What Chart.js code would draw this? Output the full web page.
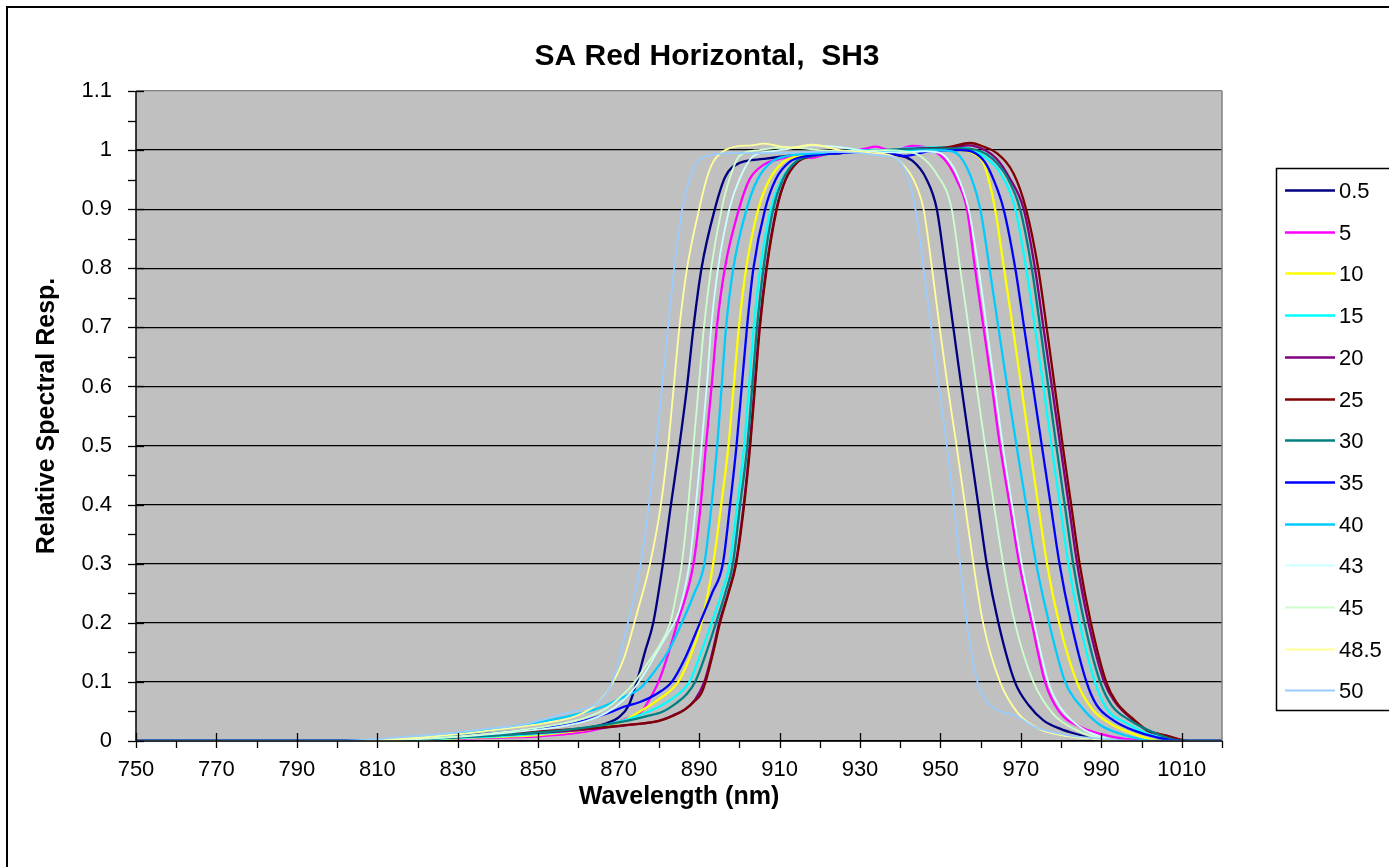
<!DOCTYPE html>
<html><head><meta charset="utf-8">
<script src="https://cdn.jsdelivr.net/npm/chart.js@4/dist/chart.umd.min.js"></script>
<style>html,body{margin:0;padding:0;background:#fff;overflow:hidden}#wrap{width:1389px;height:867px;position:relative}</style>
</head><body><div id="wrap"><canvas id="c" width="1389" height="867"></canvas></div>
<script>
// ---- data: [wavelength nm, relative spectral response] ----
const seriesLabels = ['0.5','5','10','15','20','25','30','35','40','43','45','48.5','50'];
const seriesColors = ['#000080','#FF00FF','#FFFF00','#00FFFF','#800080','#800000','#008080','#0000FF','#00CCFF','#CCFFFF','#CCFFCC','#FFFF99','#99CCFF'];
const xTickStart = 750, xTickEnd = 1020, xLabelStep = 20, xTickStep = 10;
const yTickMax = 1.1, yTickStep = 0.1;

const s05 = [[750,0],[800,0],[815,0.002],[830,0.006],[845,0.011],[855,0.016],[862,0.022],[867,0.03],[870,0.04],[872.5,0.06],[874.5,0.1],[876.5,0.15],[878.6,0.2],[881,0.3],[883,0.4],[885.1,0.5],[887,0.6],[888.6,0.7],[890.6,0.8],[893.9,0.9],[896.5,0.955],[900,0.978],[906,0.985],[912,0.99],[920,0.995],[930,0.998],[938,0.993],[943,0.982],[946.6,0.95],[949.1,0.9],[951.2,0.8],[953.2,0.7],[955.2,0.6],[957.3,0.5],[959.4,0.4],[961.5,0.3],[964.4,0.2],[968.5,0.1],[972,0.06],[975.6,0.035],[980,0.02],[984.7,0.01],[988,0.003],[1000,0],[1020,0]];
const s5 = [[750,0],[805,0],[820,0.002],[835,0.005],[850,0.008],[860,0.014],[866,0.022],[872,0.038],[875.7,0.05],[877.8,0.072],[879.9,0.1],[881.5,0.13],[884.6,0.2],[888.6,0.3],[890.4,0.4],[891.7,0.5],[893.1,0.6],[894.4,0.7],[896.4,0.8],[899.9,0.9],[902.5,0.95],[906,0.975],[910,0.985],[914,0.99],[918,0.987],[922,0.994],[927,0.996],[931,1.002],[934,1.006],[938,0.998],[943,1.007],[948,1.0],[951.5,0.98],[954,0.95],[956.6,0.9],[958.6,0.8],[960.7,0.7],[962.8,0.6],[964.8,0.5],[967.2,0.4],[969.6,0.3],[972.7,0.2],[976,0.1],[979.5,0.05],[984.7,0.024],[989.7,0.012],[996.3,0.003],[1003,0],[1020,0]];
const s10 = [[750,0],[805,0],[820,0.002],[835,0.006],[850,0.01],[860,0.017],[866,0.024],[871,0.034],[875.3,0.05],[880.3,0.072],[884.8,0.1],[887.6,0.14],[890.6,0.2],[893.5,0.3],[895.5,0.4],[897.3,0.5],[898.6,0.6],[899.9,0.7],[901.7,0.8],[904.7,0.9],[907.5,0.95],[911,0.98],[915,0.99],[922,0.995],[930,0.998],[940,1.0],[948,1.003],[954,1.0],[958,0.995],[960.7,0.978],[962,0.95],[963.6,0.9],[965.8,0.8],[968,0.7],[970.1,0.6],[972.2,0.5],[974.3,0.4],[976.5,0.3],[979.5,0.2],[983.9,0.1],[987.6,0.055],[992.1,0.03],[998,0.012],[1005,0],[1020,0]];
const s15 = [[750,0],[808,0],[822,0.003],[836,0.007],[850,0.012],[860,0.019],[868,0.029],[875.3,0.044],[880,0.058],[884,0.075],[887.6,0.1],[890.5,0.15],[893.1,0.2],[895.6,0.25],[897.6,0.3],[899.5,0.4],[901.2,0.5],[902.4,0.6],[903.6,0.7],[905.2,0.8],[907.8,0.9],[910.5,0.95],[914,0.98],[918,0.99],[925,0.995],[935,0.999],[945,1.004],[952,1.005],[957,1.003],[960.7,0.99],[964.9,0.961],[968.6,0.9],[971.3,0.8],[973.5,0.7],[975.6,0.6],[977.6,0.5],[979.7,0.4],[981.8,0.3],[984.6,0.2],[988.4,0.1],[991.3,0.055],[996.3,0.03],[1002.9,0.009],[1010,0],[1020,0]];
const s20 = [[750,0],[808,0],[825,0.005],[840,0.01],[850,0.014],[860,0.018],[866,0.022],[873.7,0.028],[880,0.034],[884,0.045],[886.6,0.054],[889,0.07],[891.3,0.1],[893.3,0.15],[895,0.2],[897.2,0.25],[899.1,0.3],[901.1,0.4],[902.6,0.5],[903.8,0.6],[905,0.7],[906.7,0.8],[909.2,0.9],[911.5,0.95],[914.5,0.98],[918,0.99],[925,0.995],[935,0.999],[945,1.003],[952,1.004],[957,1.008],[961,1.0],[964,0.985],[967,0.955],[970.7,0.9],[973.5,0.8],[975.6,0.7],[977.7,0.6],[979.8,0.5],[981.9,0.4],[984,0.3],[986.8,0.2],[990.7,0.1],[993.4,0.066],[998,0.035],[1001.3,0.018],[1006,0.009],[1012,0],[1020,0]];
const s25 = [[750,0],[806,0],[815,0.002],[825,0.006],[836.8,0.012],[851,0.017],[863.7,0.022],[873.7,0.028],[880,0.034],[884,0.044],[886.6,0.054],[888.5,0.065],[890.5,0.08],[891.6,0.1],[893.5,0.15],[895.2,0.2],[897.3,0.25],[899.2,0.3],[901.2,0.4],[902.7,0.5],[903.9,0.6],[905.1,0.7],[906.8,0.8],[909.3,0.9],[911.5,0.95],[914.5,0.98],[918,0.99],[925,0.995],[935,0.998],[945,1.002],[952,1.005],[957.4,1.012],[961,1.005],[964,0.995],[968.2,0.96],[971.3,0.9],[974.3,0.8],[976.4,0.7],[978.4,0.6],[980.4,0.5],[982.5,0.4],[984.6,0.3],[987.4,0.2],[991.2,0.1],[993.7,0.066],[998.3,0.035],[1001.5,0.018],[1006.2,0.009],[1012,0],[1020,0]];
const s30 = [[750,0],[810,0],[815,0.002],[830,0.006],[845,0.012],[856,0.018],[865,0.026],[872,0.034],[877,0.042],[881,0.05],[884.5,0.065],[887,0.08],[889,0.1],[891.8,0.15],[894.2,0.2],[896.5,0.25],[898.4,0.3],[900.2,0.4],[902,0.5],[903.2,0.6],[904.4,0.7],[906,0.8],[908.4,0.9],[910.8,0.95],[914,0.98],[918,0.99],[925,0.995],[935,1.0],[945,1.002],[955,1.003],[960,0.998],[963,0.985],[966.5,0.955],[969.8,0.9],[972.7,0.8],[974.8,0.7],[976.8,0.6],[978.8,0.5],[980.9,0.4],[983,0.3],[985.8,0.2],[989.7,0.1],[992.6,0.06],[997.1,0.035],[1003.8,0.012],[1010,0],[1020,0]];
const s35 = [[750,0],[800,0],[812,0.002],[828,0.007],[841.7,0.015],[853.2,0.024],[859,0.03],[864.7,0.041],[868.5,0.05],[871.3,0.058],[875.3,0.066],[879.5,0.08],[883.2,0.1],[886.5,0.14],[890.2,0.2],[893.2,0.25],[895.9,0.3],[897.7,0.4],[899.3,0.5],[900.6,0.6],[901.9,0.7],[903.5,0.8],[906.4,0.9],[909,0.95],[912.5,0.98],[917,0.99],[925,0.995],[935,0.998],[941,0.99],[947,0.998],[955,1.0],[958,0.997],[961,0.98],[963.2,0.95],[965.7,0.9],[968.6,0.8],[970.8,0.7],[973,0.6],[975.2,0.5],[977.4,0.4],[979.6,0.3],[982.5,0.2],[986.3,0.1],[988.8,0.061],[993,0.035],[998,0.018],[1003.8,0.006],[1010,0],[1020,0]];
const s40 = [[750,0],[800,0],[810,0.002],[825,0.008],[841.7,0.022],[851.3,0.033],[860.8,0.047],[866,0.058],[870.4,0.072],[875.3,0.089],[878.6,0.115],[882.5,0.154],[885.7,0.2],[888.8,0.25],[891.3,0.3],[893.1,0.4],[894.5,0.5],[895.6,0.6],[896.7,0.7],[898.5,0.8],[901.8,0.9],[904.5,0.95],[908,0.98],[912,0.99],[920,0.995],[930,1.0],[940,0.998],[948,1.0],[953,0.998],[956.6,0.97],[959.9,0.9],[962.2,0.8],[964.4,0.7],[966.6,0.6],[968.9,0.5],[971.3,0.4],[973.8,0.3],[977,0.2],[981,0.1],[985.1,0.057],[989.7,0.027],[996.3,0.009],[1003,0],[1020,0]];
const s43 = [[750,0],[805,0],[815,0.002],[830,0.007],[845,0.016],[855,0.024],[862,0.034],[867,0.048],[871,0.068],[874,0.09],[876.5,0.115],[879.5,0.15],[882.5,0.185],[884.5,0.21],[886.2,0.25],[887.6,0.3],[889.2,0.4],[890.6,0.5],[891.9,0.6],[893,0.7],[894.7,0.8],[897.5,0.9],[900,0.95],[903.5,0.99],[908,0.998],[913,1.003],[918,1.008],[925,1.005],[932,0.998],[940,0.996],[946,0.998],[950,0.995],[953.3,0.97],[955.2,0.94],[957,0.9],[959.5,0.8],[961.5,0.7],[963.5,0.6],[965.5,0.5],[967.8,0.4],[970.2,0.3],[973.3,0.2],[976.8,0.1],[979.5,0.06],[982.6,0.035],[986,0.018],[989.7,0.008],[995,0],[1020,0]];
const s45 = [[750,0],[805,0],[815,0.002],[830,0.008],[845,0.018],[855,0.028],[862,0.04],[867,0.056],[871,0.078],[874,0.1],[877,0.13],[880,0.16],[882.8,0.2],[884.4,0.25],[885.7,0.3],[887.3,0.4],[888.6,0.5],[889.9,0.6],[891.2,0.7],[893,0.8],[895.6,0.9],[897.5,0.95],[900,0.99],[905,1.0],[912,1.005],[920,1.0],[928,0.998],[936,1.0],[941,0.998],[945,0.99],[949,0.96],[952.8,0.9],[954.9,0.8],[957,0.7],[959,0.6],[961.1,0.5],[963.3,0.4],[965.6,0.3],[968.5,0.2],[973.1,0.1],[978,0.046],[983.9,0.018],[989.7,0.005],[995,0],[1020,0]];
const s485 = [[750,0],[803,0],[818,0.005],[832.2,0.013],[841.7,0.021],[851.3,0.03],[858.9,0.041],[863.7,0.058],[867.5,0.087],[871.3,0.14],[874.7,0.22],[877.8,0.3],[880.5,0.4],[882.3,0.5],[883.7,0.6],[885.1,0.7],[887,0.8],[890,0.9],[891.8,0.95],[893.5,0.98],[896,0.998],[899,1.006],[903,1.008],[906,1.011],[909.5,1.007],[912.6,1.004],[918.3,1.009],[925,1.0],[933,0.995],[938,0.99],[940,0.98],[943.3,0.95],[945.8,0.9],[947.9,0.8],[949.8,0.7],[951.8,0.6],[954,0.5],[956.1,0.4],[958.2,0.3],[960.6,0.2],[964.8,0.1],[969.4,0.046],[974.7,0.02],[980,0.01],[985.5,0.005],[995,0],[1020,0]];
const s50 = [[750,0],[800,0],[813,0.005],[827.4,0.013],[837.9,0.021],[845.6,0.027],[851.3,0.036],[856.1,0.046],[860.8,0.053],[864.7,0.064],[867.5,0.087],[869.4,0.12],[872.3,0.2],[875.5,0.3],[877.5,0.4],[879.3,0.5],[880.8,0.6],[882.3,0.7],[883.8,0.8],[885.8,0.9],[887.6,0.95],[889.5,0.98],[892,0.99],[898,0.995],[910,0.995],[920,0.997],[930,0.995],[936,0.99],[939.1,0.985],[941.6,0.96],[943.8,0.9],[945.8,0.8],[947.7,0.7],[949.6,0.6],[951.6,0.5],[953.3,0.4],[954.9,0.3],[956.6,0.2],[959.2,0.1],[961.5,0.067],[964,0.053],[968.9,0.042],[973,0.025],[981.4,0.01],[992,0.003],[1000,0],[1020,0]];

const seriesData = [s05, s5, s10, s15, s20, s25, s30, s35, s40, s43, s45, s485, s50];

const FONT = "'Liberation Sans', Arial, sans-serif";

const datasets = seriesData.map((s, i) => ({
  label: seriesLabels[i],
  data: s.map(p => ({x: p[0], y: p[1]})),
  borderColor: seriesColors[i],
  backgroundColor: seriesColors[i],
  borderWidth: i < 9 ? 2.3 : 1.8,
  pointRadius: 0,
  pointHoverRadius: 0,
  cubicInterpolationMode: 'monotone',
  borderJoinStyle: 'round',
  fill: false,
  order: -i
}));

const deco = {
  id: 'deco',
  beforeDraw(chart) {
    const {ctx, chartArea: a} = chart;
    ctx.save();
    ctx.fillStyle = '#ffffff';
    ctx.fillRect(0, 0, chart.width, chart.height);
    ctx.fillStyle = '#C0C0C0';
    ctx.fillRect(a.left, a.top, a.right - a.left, a.bottom - a.top);
    ctx.restore();
  },
  afterDraw(chart) {
    const {ctx, chartArea: a} = chart;
    const xs = chart.scales.x, ys = chart.scales.y;
    ctx.save();
    ctx.strokeStyle = '#808080'; ctx.lineWidth = 1.5;
    ctx.beginPath(); ctx.moveTo(a.right, a.top); ctx.lineTo(a.right, a.bottom); ctx.stroke();
    ctx.strokeStyle = '#000'; ctx.lineWidth = 1.5;
    ctx.beginPath(); ctx.moveTo(a.left, a.top); ctx.lineTo(a.left, a.bottom); ctx.lineTo(a.right, a.bottom); ctx.stroke();
    ctx.lineWidth = 1.3;
    const nx = Math.round((xTickEnd - xTickStart) / xTickStep);
    for (let k = 0; k <= nx; k++) {
      const v = xTickStart + k * xTickStep;
      const px = Math.round(xs.getPixelForValue(v)) + 0.5;
      const major = ((v - xTickStart) % xLabelStep) === 0;
      ctx.beginPath();
      ctx.moveTo(px, major ? a.bottom - 8 : a.bottom);
      ctx.lineTo(px, a.bottom + 7);
      ctx.stroke();
    }
    const ny = Math.round(yTickMax / (yTickStep / 2));
    for (let k = 0; k <= ny; k++) {
      const v = k * yTickStep / 2;
      const py = Math.round(ys.getPixelForValue(v)) + 0.5;
      const major = k % 2 === 0;
      ctx.beginPath();
      ctx.moveTo(a.left - 8, py);
      ctx.lineTo(major ? a.left + 8 : a.left, py);
      ctx.stroke();
    }
    ctx.fillStyle = '#000';
    ctx.textAlign = 'center'; ctx.textBaseline = 'middle';
    ctx.font = 'bold 30px ' + FONT;
    ctx.fillText('SA Red Horizontal,  SH3', 707, 57);
    ctx.font = 'bold 25px ' + FONT;
    ctx.fillText('Wavelength (nm)', (a.left + a.right) / 2, 797);
    ctx.save();
    ctx.translate(47, (a.top + a.bottom) / 2);
    ctx.rotate(-Math.PI / 2);
    ctx.fillText('Relative Spectral Resp.', 0, 0);
    ctx.restore();
    const lx = 1276, ly = 168, lh = 542;
    ctx.fillStyle = '#fff';
    ctx.fillRect(lx, ly, 140, lh);
    ctx.strokeStyle = '#000'; ctx.lineWidth = 1.5;
    ctx.strokeRect(lx + 0.5, ly + 0.5, 140, lh);
    const rowH = 41.7;
    ctx.font = '22px ' + FONT;
    ctx.textAlign = 'left'; ctx.textBaseline = 'middle';
    chart.data.datasets.forEach((ds, i) => {
      const y = Math.round(190 + i * rowH) + 0.5;
      ctx.strokeStyle = ds.borderColor; ctx.lineWidth = ds.borderWidth;
      ctx.beginPath(); ctx.moveTo(1285, y); ctx.lineTo(1335, y); ctx.stroke();
      ctx.fillStyle = '#000';
      ctx.fillText(ds.label, 1339, y + 1);
    });
    ctx.strokeStyle = '#000'; ctx.lineWidth = 2;
    ctx.strokeRect(7, 7, 1420, 900);
    ctx.restore();
  }
};

new Chart(document.getElementById('c'), {
  type: 'line',
  data: { datasets },
  options: {
    responsive: false,
    animation: false,
    devicePixelRatio: 1,
    layout: { padding: { left: 0, top: 91, right: 167, bottom: 0 } },
    plugins: { legend: { display: false }, title: { display: false }, tooltip: { enabled: false } },
    events: [],
    scales: {
      x: {
        type: 'linear', position: 'bottom',
        min: xTickStart, max: xTickEnd,
        afterFit(s) { s.height = 126; },
        grid: { display: false, drawTicks: false },
        border: { display: false },
        ticks: {
          stepSize: xTickStep, autoSkip: false, maxRotation: 0, minRotation: 0,
          padding: 16, color: '#000', font: { family: FONT, size: 22 },
          callback: v => (((v - xTickStart) % xLabelStep) === 0 ? String(v) : '')
        }
      },
      y: {
        type: 'linear', position: 'left',
        min: 0, max: yTickMax,
        afterFit(s) { s.width = 136; },
        grid: {
          drawTicks: false, lineWidth: 1.2,
          color: c => (c.tick && Math.abs(c.tick.value - yTickMax) < 1e-6 ? '#808080' : '#000')
        },
        border: { display: false },
        ticks: {
          stepSize: yTickStep, padding: 24, color: '#000', font: { family: FONT, size: 22 },
          callback: v => String(+v.toFixed(1))
        }
      }
    }
  },
  plugins: [deco]
});
</script>
</body></html>
